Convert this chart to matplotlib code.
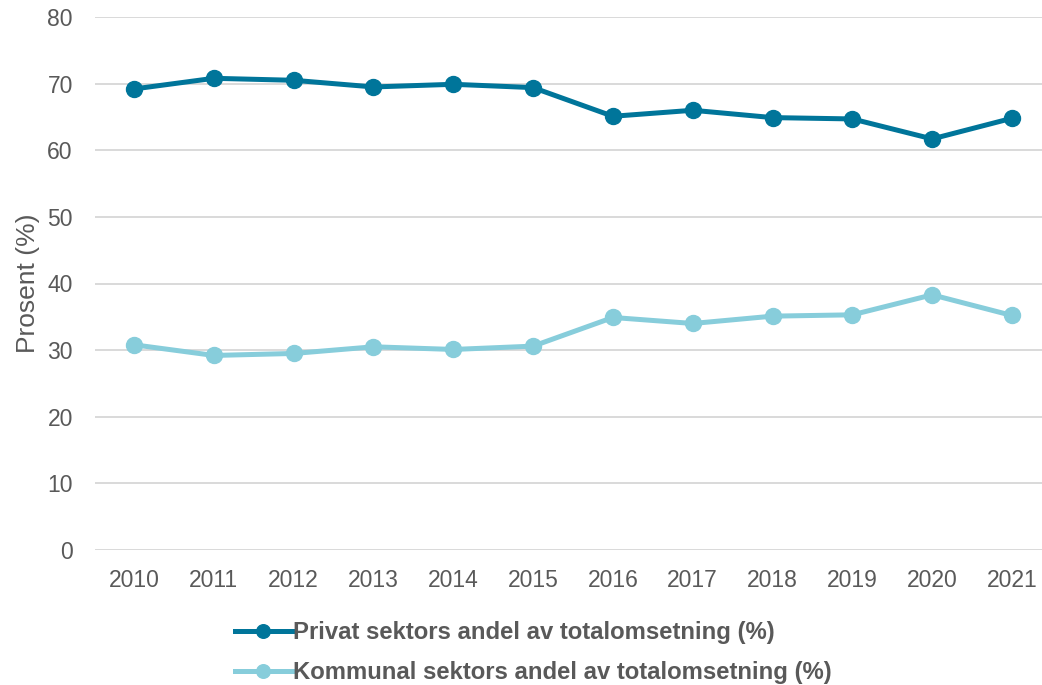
import matplotlib
matplotlib.use('Agg')
import matplotlib.pyplot as plt

years = ['2010', '2011', '2012', '2013', '2014', '2015', '2016', '2017', '2018', '2019', '2020', '2021']
privat = [69.2, 70.8, 70.5, 69.5, 69.9, 69.4, 65.1, 66.0, 64.9, 64.7, 61.7, 64.8]
kommunal = [30.8, 29.2, 29.5, 30.5, 30.1, 30.6, 34.9, 34.0, 35.1, 35.3, 38.3, 35.2]
y_ticks = [0, 10, 20, 30, 40, 50, 60, 70, 80]

plt.rcParams['font.family'] = ['Liberation Sans', 'DejaVu Sans']
grey = '#595959'

fig = plt.figure(figsize=(10.42, 6.85), dpi=100)
ax = fig.add_axes([95 / 1042, 135 / 685, (1042 - 95) / 1042, (550 - 17) / 685])

x = range(len(years))
ax.plot(x, privat, color='#00759A', lw=3.6, marker='o', ms=11.5,
        label='Privat sektors andel av totalomsetning (%)', zorder=3)
ax.plot(x, kommunal, color='#87CDDB', lw=3.6, marker='o', ms=11.5,
        label='Kommunal sektors andel av totalomsetning (%)', zorder=3)

ax.set_xlim(-0.489, 11.376)
ax.set_ylim(0, 80)
ax.set_xticks(list(x))
ax.set_xticklabels(years)
ax.set_yticks(y_ticks)
ax.tick_params(length=0, labelsize=16.5, labelcolor=grey)
ax.tick_params(axis='y', pad=16)
ax.tick_params(axis='x', pad=14)
ax.grid(axis='y', color='#D9D9D9', lw=1.4)
ax.set_axisbelow(True)
for s in ax.spines.values():
    s.set_visible(False)
ax.set_ylabel('Prosent (%)', fontsize=19, color=grey, labelpad=5)

fig.legend(loc='upper left', bbox_to_anchor=(213 / 1042, 1 - 600 / 685), frameon=False,
           handlelength=2.4, handletextpad=0.05, labelspacing=0.7,
           prop={'size': 17.2, 'weight': 'bold'}, labelcolor=grey, markerscale=0.85)

fig.savefig('out.png', dpi=100)
